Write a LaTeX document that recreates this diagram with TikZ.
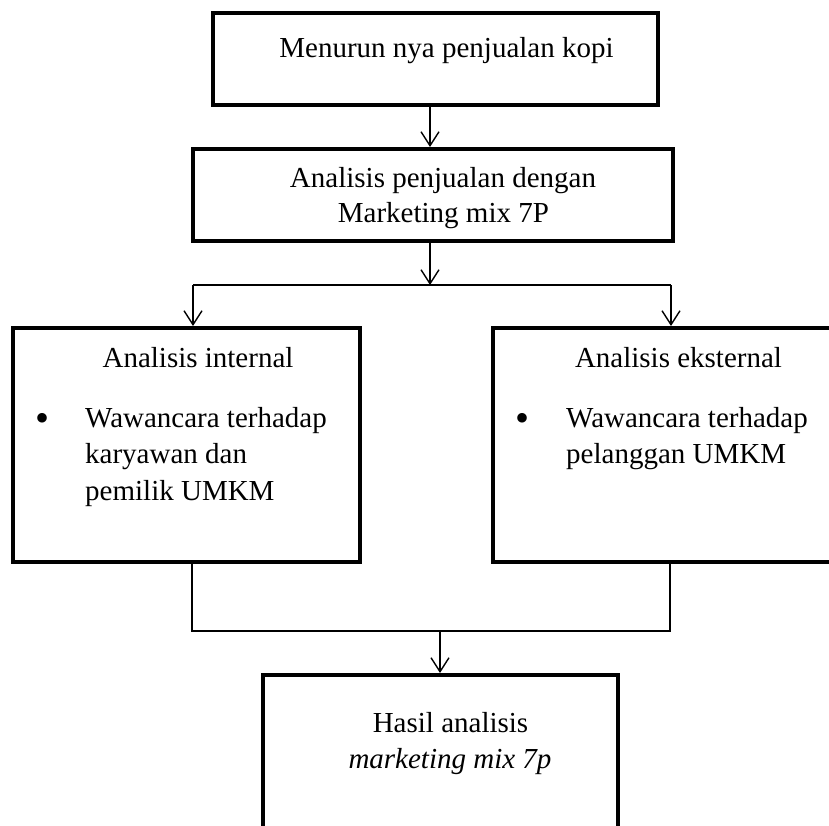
\documentclass[tikz,border=0pt]{standalone}
\usepackage{fontspec}
\setmainfont{Liberation Serif}
\usetikzlibrary{arrows.meta}
\begin{document}
\begin{tikzpicture}[x=1pt,y=-1pt,
  box/.style={draw,line width=4pt,rectangle,inner sep=0pt},
  conn/.style={line width=1.3pt},
  arr/.style={line width=1.3pt,-{Straight Barb[length=14pt,width=18pt,line width=1.4pt]}},
  txt/.style={font=\fontsize{29}{35}\selectfont,inner sep=0pt,anchor=base},
  bul/.style={font=\fontsize{40}{40}\selectfont,inner sep=0pt,anchor=base},
  txtl/.style={font=\fontsize{29}{35}\selectfont,inner sep=0pt,anchor=base west}]
\useasboundingbox (0,0) rectangle (829,826);
\clip (0,0) rectangle (829,826);
% boxes
\node[box,minimum width=445pt,minimum height=92pt] (top) at (435.5,59) {};
\node[box,minimum width=480pt,minimum height=92pt] (mid) at (433,195) {};
\node[box,minimum width=347pt,minimum height=234pt] (left) at (186.5,445) {};
\node[box,minimum width=347pt,minimum height=234pt] (right) at (666.5,445) {};
\node[box,minimum width=355pt,minimum height=234pt] (bot) at (440.5,792) {};
% texts
\node[txt] (t1) at (446.5,58) {Menurun nya penjualan kopi};
\node[txt] (t2a) at (443,188) {Analisis penjualan dengan};
\node[txt] (t2b) at (443.4,223) {Marketing mix 7P};
\node[txt] (tl) at (198,367) {Analisis internal};
\node[bul] (bl) at (43,431) {\textbullet};
\node[txtl] (l1) at (85,427) {Wawancara terhadap};
\node[txtl] (l2) at (85,463) {karyawan dan};
\node[txtl] (l3) at (85,500) {pemilik UMKM};
\node[txt] (tr) at (678.5,367) {Analisis eksternal};
\node[bul] (br) at (522,431) {\textbullet};
\node[txtl] (r1) at (566,427) {Wawancara terhadap};
\node[txtl] (r2) at (566,463) {pelanggan UMKM};
\node[txt] (tb1) at (450.5,732) {Hasil analisis};
\node[txt] (tb2) at (450,768) {\itshape marketing mix 7p};
% connector coordinates
\coordinate (c1) at (430,285);
\coordinate (ls) at (193,285);
\coordinate (rs) at (671,285);
\coordinate (lj) at (192,631);
\coordinate (rj) at (670,631);
\coordinate (mj) at (440,631);
% connectors
\draw[arr] (top.south -| c1) -- (mid.north -| c1);
\draw[arr] (mid.south -| c1) -- (c1);
\draw[conn] (ls) -- (rs);
\draw[arr] (ls) -- (left.north -| ls);
\draw[arr] (rs) -- (right.north -| rs);
\draw[conn] (left.south -| lj) -- (lj) -- (rj) -- (right.south -| rj);
\draw[arr] (mj) -- (bot.north -| mj);
\end{tikzpicture}
\end{document}
